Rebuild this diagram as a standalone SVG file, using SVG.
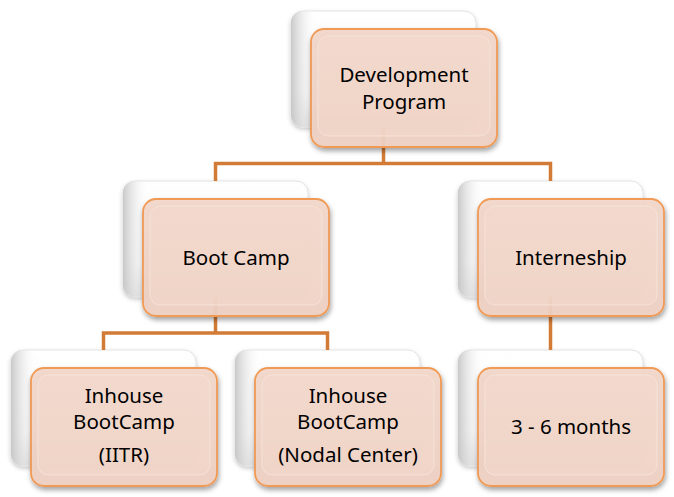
<svg xmlns="http://www.w3.org/2000/svg" width="674" height="497" viewBox="0 0 674 497">
<defs>
  <linearGradient id="backV" x1="0" y1="0" x2="0" y2="1">
    <stop offset="0" stop-color="#ffffff"/>
    <stop offset="0.7" stop-color="#f6f6f6"/>
    <stop offset="1" stop-color="#d8d8d8"/>
  </linearGradient>
  <linearGradient id="backH" x1="0" y1="0" x2="1" y2="0">
    <stop offset="0" stop-color="#c4c4c4" stop-opacity="0.9"/>
    <stop offset="0.06" stop-color="#e2e2e2" stop-opacity="0.6"/>
    <stop offset="0.14" stop-color="#ffffff" stop-opacity="0"/>
  </linearGradient>
  <linearGradient id="frontV" x1="0" y1="0" x2="0" y2="1">
    <stop offset="0" stop-color="#f3d8cb"/>
    <stop offset="1" stop-color="#efd1c2"/>
  </linearGradient>
  <filter id="sh" x="-10%" y="-10%" width="125%" height="130%">
    <feDropShadow dx="1" dy="3" stdDeviation="2.5" flood-color="#000" flood-opacity="0.38"/>
  </filter>
  <filter id="shb" x="-10%" y="-10%" width="125%" height="130%">
    <feDropShadow dx="0" dy="2" stdDeviation="2" flood-color="#000" flood-opacity="0.22"/>
  </filter>
</defs>
<style>
  .back{fill:url(#backV);stroke:#e2e2e2;stroke-width:1;filter:url(#shb)}
  .backh{fill:url(#backH);stroke:none}
  .front{fill:url(#frontV);fill-opacity:0.93;stroke:#f19a55;stroke-width:1.8;filter:url(#sh)}
  .inner{fill:#f5ded2;fill-opacity:0.35;stroke:#f6e2d8;stroke-width:1}
  .conn{fill:none;stroke:#d17b36;stroke-width:3.5;stroke-linejoin:miter}
  text{font-family:"Noto Sans","Open Sans","Liberation Sans",sans-serif;font-size:20.5px;fill:#000;text-anchor:middle}
</style>

<g id="backs">
  <g id="back-top"><rect class="back" x="291" y="11" width="185" height="116" rx="12"/><rect class="backh" x="291" y="11" width="185" height="116" rx="12"/></g>
  <g id="back-boot"><rect class="back" x="123" y="181" width="185" height="116" rx="12"/><rect class="backh" x="123" y="181" width="185" height="116" rx="12"/></g>
  <g id="back-intern"><rect class="back" x="458" y="181" width="185" height="116" rx="12"/><rect class="backh" x="458" y="181" width="185" height="116" rx="12"/></g>
  <g id="back-iitr"><rect class="back" x="11" y="350" width="185" height="116" rx="12"/><rect class="backh" x="11" y="350" width="185" height="116" rx="12"/></g>
  <g id="back-nodal"><rect class="back" x="235" y="350" width="185" height="116" rx="12"/><rect class="backh" x="235" y="350" width="185" height="116" rx="12"/></g>
  <g id="back-months"><rect class="back" x="458" y="350" width="185" height="116" rx="12"/><rect class="backh" x="458" y="350" width="185" height="116" rx="12"/></g>
</g>

<g id="connectors">
  <path class="conn" d="M383.5,127 V163.5 M215.5,181 V163.5 H550.5 V181"/>
  <path class="conn" d="M215.5,297 V333 M103.5,350 V333 H327.5 V350"/>
  <path class="conn" d="M550.5,297 V350"/>
</g>

<g id="node-development">
  <rect class="front" x="311" y="29" width="186" height="118" rx="13"/>
  <rect class="inner" x="318" y="36" width="172" height="100" rx="10"/>
  <text x="404" y="82">Development</text>
  <text x="404" y="108.5">Program</text>
</g>
<g id="node-bootcamp">
  <rect class="front" x="143" y="199" width="186" height="117" rx="13"/>
  <rect class="inner" x="150" y="206" width="172" height="99" rx="10"/>
  <text x="236" y="265">Boot Camp</text>
</g>
<g id="node-interneship">
  <rect class="front" x="478" y="199" width="186" height="117" rx="13"/>
  <rect class="inner" x="485" y="206" width="172" height="99" rx="10"/>
  <text x="571" y="265">Interneship</text>
</g>
<g id="node-iitr">
  <rect class="front" x="31" y="368" width="186" height="118" rx="13"/>
  <rect class="inner" x="38" y="375" width="172" height="100" rx="10"/>
  <text x="124" y="403">Inhouse</text>
  <text x="124" y="429">BootCamp</text>
  <text x="124" y="462">(IITR)</text>
</g>
<g id="node-nodal">
  <rect class="front" x="255" y="368" width="186" height="118" rx="13"/>
  <rect class="inner" x="262" y="375" width="172" height="100" rx="10"/>
  <text x="348" y="403">Inhouse</text>
  <text x="348" y="429">BootCamp</text>
  <text x="348" y="462">(Nodal Center)</text>
</g>
<g id="node-months">
  <rect class="front" x="478" y="368" width="186" height="118" rx="13"/>
  <rect class="inner" x="485" y="375" width="172" height="100" rx="10"/>
  <text x="571" y="434">3 - 6 months</text>
</g>
</svg>
